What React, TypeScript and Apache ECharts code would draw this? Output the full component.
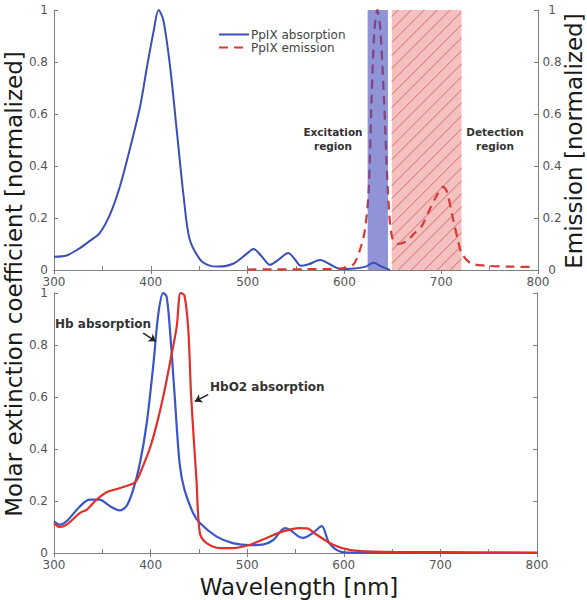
import React, { useEffect, useRef } from "react";
import * as echarts from "echarts";

// ---- Top panel: PpIX ----
const absWl = [300, 313, 325, 337, 347, 358, 368, 378, 389, 396, 403, 408, 413, 420, 427, 434, 440, 451, 460, 470, 485, 499, 506, 514, 523, 532, 542, 548, 555, 563, 575, 585, 596, 610, 622, 630, 638, 647];
const absVal = [0.051, 0.056, 0.08, 0.112, 0.141, 0.215, 0.32, 0.46, 0.63, 0.78, 0.92, 1.0, 0.96, 0.78, 0.53, 0.28, 0.12, 0.04, 0.018, 0.013, 0.024, 0.062, 0.081, 0.055, 0.02, 0.04, 0.065, 0.045, 0.016, 0.022, 0.038, 0.022, 0.004, 0.006, 0.013, 0.028, 0.014, 0.0];

const emWl = [500, 560, 596, 609, 616, 621, 625, 628, 631, 634, 637, 641, 645, 649, 655, 664, 672, 680, 689, 696, 702, 706, 712, 717, 721, 730, 745, 770, 795];
const emVal = [0.002, 0.003, 0.006, 0.02, 0.077, 0.15, 0.3, 0.65, 0.92, 1.0, 0.93, 0.65, 0.3, 0.13, 0.1, 0.11, 0.14, 0.17, 0.24, 0.29, 0.32, 0.3, 0.2, 0.12, 0.065, 0.027, 0.017, 0.013, 0.012];

const excitationBand = [624, 645];
const detectionBand = [649, 721];

// ---- Bottom panel: Hb / HbO2 ----
const hbWl = [300, 306, 313, 327, 337, 347, 358, 368, 375, 382, 389, 396, 403, 408, 413, 416.5, 420, 425, 430, 435, 444, 451, 468, 485, 503, 516, 527, 539, 544, 553, 558, 568, 577, 585, 596, 610, 650, 800];
const hbVal = [0.122, 0.109, 0.122, 0.18, 0.205, 0.205, 0.18, 0.164, 0.18, 0.244, 0.346, 0.5, 0.73, 0.92, 1.0, 0.987, 0.86, 0.6, 0.346, 0.244, 0.154, 0.115, 0.064, 0.038, 0.03, 0.032, 0.05, 0.096, 0.09, 0.064, 0.058, 0.077, 0.103, 0.038, 0.006, 0.001, 0, 0];

const hbo2Wl = [300, 306, 313, 327, 334, 344, 354, 365, 382, 386, 392, 399, 406, 413, 420, 427, 431, 435, 439, 442, 447.5, 451, 458, 472, 485, 503, 520, 537, 554, 562, 572, 589, 606, 625, 650, 700, 800];
const hbo2Val = [0.115, 0.1, 0.109, 0.154, 0.167, 0.205, 0.233, 0.246, 0.267, 0.282, 0.333, 0.4, 0.49, 0.6, 0.73, 0.87, 1.0, 0.99, 0.86, 0.6, 0.28, 0.077, 0.038, 0.019, 0.019, 0.032, 0.058, 0.083, 0.096, 0.095, 0.07, 0.032, 0.012, 0.006, 0.004, 0.003, 0.002];

// annotation arrows (data coordinates, bottom panel)
const hbArrow = [[392.3, 0.846], [405.5, 0.814]];
const hbo2Arrow = [[459.6, 0.609], [445.8, 0.583]];

const FONT = "DejaVu Sans";

const zip = (xs: number[], ys: number[]) => xs.map((x, i) => [x, ys[i]]);

export default function App() {
  const ref = useRef<HTMLDivElement>(null);
  useEffect(() => {
    const chart = echarts.init(ref.current!, null, { renderer: "svg" });
    const axisLine = { lineStyle: { color: "#808080", width: 1 } };
    const label = { color: "#555", fontSize: 12, fontFamily: FONT };
    const xBase = (grid: number, pos: string, showLabel: boolean, interval: number) => ({
      type: "value",
      gridIndex: grid,
      position: pos,
      min: 300,
      max: 800,
      interval,
      axisLine: { show: true, ...axisLine },
      axisTick: { show: true, inside: true, length: 4, lineStyle: { color: "#808080" } },
      splitLine: { show: false },
      axisLabel: showLabel
        ? { ...label, margin: 6, formatter: (v: number) => (v % 100 === 0 ? String(v) : "") }
        : { show: false },
    });
    const yBase = (grid: number, pos: string, lbl: any) => ({
      type: "value",
      gridIndex: grid,
      position: pos,
      min: 0,
      max: 1,
      interval: 0.2,
      axisLine: { show: true, ...axisLine },
      axisTick: { show: true, inside: true, length: 4, lineStyle: { color: "#808080" } },
      splitLine: { show: false },
      axisLabel: lbl,
    });

    const bandRender = (hatched: boolean) => (params: any, api: any) => {
      const p0 = api.coord([api.value(0), 1]);
      const p1 = api.coord([api.value(1), 0]);
      const x0 = p0[0], y0 = p0[1], x1 = p1[0], y1 = p1[1];
      if (!hatched) {
        return {
          type: "rect",
          shape: { x: x0, y: y0, width: x1 - x0, height: y1 - y0 },
          style: { fill: "rgba(70,75,185,0.6)" },
        };
      }
      const children: any[] = [
        { type: "rect", shape: { x: x0, y: y0, width: x1 - x0, height: y1 - y0 }, style: { fill: "#f4c0c0" } },
      ];
      const step = 13;
      for (let c = x0 + y0 + step / 2; c < x1 + y1; c += step) {
        const xa = Math.max(x0, c - y1);
        const xb = Math.min(x1, c - y0);
        if (xb <= xa) continue;
        children.push({
          type: "line",
          shape: { x1: xa, y1: c - xa, x2: xb, y2: c - xb },
          style: { stroke: "#d46a6a", lineWidth: 1 },
        });
      }
      return { type: "group", children };
    };

    chart.setOption({
      animation: false,
      grid: [
        { left: 54, width: 484, top: 10, height: 260 },
        { left: 54, width: 483, top: 293, height: 260 },
      ],
      xAxis: [
        xBase(0, "bottom", true, 50),
        xBase(0, "top", false, 100),
        xBase(1, "bottom", true, 50),
        xBase(1, "top", false, 100),
      ],
      yAxis: [
        yBase(0, "left", { ...label, margin: 6 }),
        yBase(0, "right", { ...label, margin: 14, align: "center" }),
        yBase(1, "left", { ...label, margin: 6 }),
        yBase(1, "right", { show: false }),
      ],
      legend: {
        orient: "vertical",
        left: 213,
        top: 23,
        itemWidth: 30,
        itemHeight: 10,
        itemGap: 0,
        itemStyle: { opacity: 0 },
        data: ["PpIX absorption", "PpIX emission"],
        textStyle: { color: "#444", fontSize: 12, lineHeight: 13, fontFamily: FONT, padding: [0, 0, 0, -3] },
      },
      series: [
        {
          type: "custom",
          name: "Detection region",
          xAxisIndex: 0,
          yAxisIndex: 0,
          z: 1,
          silent: true,
          renderItem: bandRender(true),
          data: [detectionBand],
        },
        {
          type: "line",
          name: "PpIX absorption",
          xAxisIndex: 0,
          yAxisIndex: 0,
          data: zip(absWl, absVal),
          smooth: 0.3,
          symbol: "none",
          z: 3,
          lineStyle: { color: "#3a4fb5", width: 2 },
          itemStyle: { color: "#3a4fb5" },
        },
        {
          type: "line",
          name: "PpIX emission",
          xAxisIndex: 0,
          yAxisIndex: 1,
          data: zip(emWl, emVal),
          smooth: 0.3,
          symbol: "none",
          z: 3,
          lineStyle: { color: "#d63a33", width: 2.2, type: [9, 6] },
          itemStyle: { color: "#d63a33" },
        },
        {
          type: "custom",
          name: "Excitation region",
          xAxisIndex: 0,
          yAxisIndex: 0,
          z: 5,
          silent: true,
          renderItem: bandRender(false),
          data: [excitationBand],
        },
        {
          type: "line",
          name: "Hb absorption",
          xAxisIndex: 2,
          yAxisIndex: 2,
          data: zip(hbWl, hbVal),
          smooth: 0.3,
          symbol: "none",
          lineStyle: { color: "#3a55c8", width: 2.2 },
          itemStyle: { color: "#3a55c8" },
          markLine: {
            silent: true,
            symbol: ["none", "arrow"],
            symbolSize: 7,
            label: { show: false },
            lineStyle: { color: "#222", width: 1.5, type: "solid" },
            data: [[{ coord: hbArrow[0] }, { coord: hbArrow[1] }]],
          },
        },
        {
          type: "line",
          name: "HbO2 absorption",
          xAxisIndex: 2,
          yAxisIndex: 2,
          data: zip(hbo2Wl, hbo2Val),
          smooth: 0.3,
          symbol: "none",
          lineStyle: { color: "#e0302c", width: 2.2 },
          itemStyle: { color: "#e0302c" },
          markLine: {
            silent: true,
            symbol: ["none", "arrow"],
            symbolSize: 7,
            label: { show: false },
            lineStyle: { color: "#222", width: 1.5, type: "solid" },
            data: [[{ coord: hbo2Arrow[0] }, { coord: hbo2Arrow[1] }]],
          },
        },
      ],
      graphic: [
        {
          type: "text",
          x: 14,
          y: 284,
          rotation: Math.PI / 2,
          style: { text: "Molar extinction coefficient [normalized]", fontSize: 23, fontFamily: FONT, fill: "#1a1a1a", align: "center", verticalAlign: "middle" },
        },
        {
          type: "text",
          x: 574,
          y: 141,
          rotation: Math.PI / 2,
          style: { text: "Emission [normalized]", fontSize: 23, fontFamily: FONT, fill: "#1a1a1a", align: "center", verticalAlign: "middle" },
        },
        {
          type: "text",
          x: 299,
          y: 587,
          style: { text: "Wavelength [nm]", fontSize: 23, fontFamily: FONT, fill: "#1a1a1a", align: "center", verticalAlign: "middle" },
        },
        {
          type: "text",
          x: 333,
          y: 139,
          style: { text: "Excitation\nregion", fontSize: 10.5, fontWeight: "bold", lineHeight: 14, fontFamily: FONT, fill: "#333", align: "center", verticalAlign: "middle" },
        },
        {
          type: "text",
          x: 495,
          y: 139,
          style: { text: "Detection\nregion", fontSize: 10.5, fontWeight: "bold", lineHeight: 14, fontFamily: FONT, fill: "#333", align: "center", verticalAlign: "middle" },
        },
        {
          type: "text",
          x: 55,
          y: 324,
          style: { text: "Hb absorption", fontSize: 12, fontWeight: "bold", fontFamily: FONT, fill: "#333", align: "left", verticalAlign: "middle" },
        },
        {
          type: "text",
          x: 210,
          y: 387,
          style: { text: "HbO2 absorption", fontSize: 12, fontWeight: "bold", fontFamily: FONT, fill: "#333", align: "left", verticalAlign: "middle" },
        },
      ],
    });
    return () => chart.dispose();
  }, []);
  return (
    <div
      ref={ref}
      style={{ position: "fixed", left: 0, top: 0, width: 587, height: 600, background: "#fff" }}
    />
  );
}
